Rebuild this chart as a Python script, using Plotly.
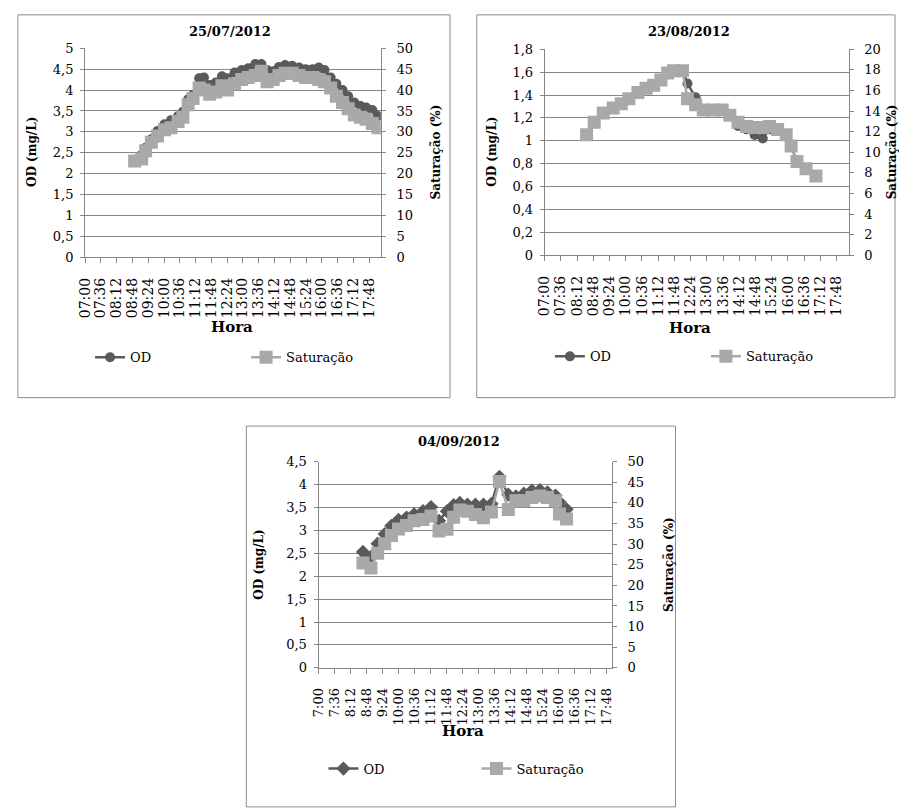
import plotly.graph_objects as go

W, H = 899, 809

# ---------------- data ----------------
tick_labels_a = ["07:00", "07:36", "08:12", "08:48", "09:24", "10:00", "10:36", "11:12", "11:48",
                 "12:24", "13:00", "13:36", "14:12", "14:48", "15:24", "16:00", "16:36", "17:12", "17:48"]
tick_labels_c = ["7:00", "7:36", "8:12", "8:48", "9:24", "10:00", "10:36", "11:12", "11:48",
                 "12:24", "13:00", "13:36", "14:12", "14:48", "15:24", "16:00", "16:36", "17:12", "17:48"]

# 25/07/2012
hora_1 = ["08:53", "09:09", "09:18", "09:31", "09:45", "10:01", "10:16", "10:32", "10:43", "10:55",
          "11:06", "11:20", "11:31", "11:44", "11:58", "12:12", "12:25", "12:41", "12:57", "13:12",
          "13:28", "13:42", "13:55", "14:09", "14:22", "14:36", "14:52", "15:08", "15:23", "15:39",
          "15:53", "16:06", "16:20", "16:33", "16:47", "17:00", "17:14", "17:28", "17:41", "17:55", "18:08"]
od_1 = [2.30, 2.45, 2.62, 2.82, 3.02, 3.18, 3.28, 3.38, 3.48, 3.78,
        3.88, 4.28, 4.30, 4.12, 4.18, 4.33, 4.28, 4.42, 4.48, 4.52,
        4.62, 4.62, 4.48, 4.45, 4.55, 4.60, 4.58, 4.54, 4.50, 4.50,
        4.54, 4.48, 4.30, 4.15, 4.00, 3.85, 3.70, 3.62, 3.58, 3.52, 3.38]
sat_1 = [23.0, 23.5, 25.5, 27.5, 29.0, 30.5, 31.0, 32.5, 33.5, 36.5,
         38.0, 40.5, 40.0, 39.0, 39.5, 41.0, 40.0, 41.5, 42.5, 43.0,
         43.5, 44.5, 42.0, 42.5, 43.5, 44.0, 44.0, 43.5, 43.0, 43.0,
         42.5, 42.0, 40.5, 38.5, 37.0, 35.5, 34.0, 33.5, 33.0, 32.0, 31.0]

# 23/08/2012
hora_2 = ["08:33", "08:50", "09:10", "09:32", "09:50", "10:07", "10:27", "10:45", "11:02", "11:18",
          "11:33", "11:46", "12:06", "12:17", "12:35", "12:52", "13:14", "13:34", "13:51", "14:09",
          "14:28", "14:46", "15:04", "15:19", "15:37", "15:56", "16:07", "16:20", "16:40", "17:02"]
od_2 = [1.05, 1.16, 1.24, 1.29, 1.32, 1.37, 1.42, 1.46, 1.49, 1.53,
        1.59, 1.61, 1.61, 1.50, 1.38, 1.28, 1.27, 1.27, 1.22, 1.13,
        1.10, 1.05, 1.02, 1.10, 1.09, 1.05, 0.95, 0.82, 0.75, 0.70]
sat_2 = [11.7, 12.9, 13.8, 14.3, 14.7, 15.2, 15.8, 16.2, 16.5, 17.0,
         17.7, 17.9, 17.9, 15.2, 14.6, 14.1, 14.1, 14.1, 13.6, 12.9,
         12.5, 12.4, 12.4, 12.5, 12.2, 11.7, 10.6, 9.1, 8.4, 7.7]

# 04/09/2012
hora_3 = ["08:40", "08:58", "09:13", "09:29", "09:44", "10:00", "10:18", "10:35", "10:55", "11:13",
          "11:31", "11:49", "12:04", "12:18", "12:35", "12:53", "13:11", "13:29", "13:47", "14:07",
          "14:24", "14:42", "15:00", "15:18", "15:35", "15:53", "16:02", "16:18"]
od_3 = [2.53, 2.42, 2.71, 2.92, 3.10, 3.23, 3.28, 3.35, 3.42, 3.51,
        3.21, 3.42, 3.55, 3.60, 3.56, 3.56, 3.56, 3.58, 4.17, 3.78,
        3.74, 3.80, 3.87, 3.88, 3.83, 3.76, 3.62, 3.46]
sat_3 = [25.4, 24.2, 27.8, 30.1, 32.1, 33.7, 34.5, 35.7, 36.0, 36.8,
         33.2, 33.6, 36.5, 38.3, 38.0, 37.2, 36.4, 37.8, 45.2, 38.4,
         40.5, 40.5, 41.3, 41.7, 41.3, 40.5, 37.3, 36.1]


def minutes(s):
    h, m = s.split(":")
    return int(h) * 60 + int(m)


FONT = "DejaVu Serif"
OD_COL = "#5a5a5a"
SAT_COL = "#a9a9a9"
AX_COL = "#868686"


def fx(px):
    return px / W


def fy(py):
    return 1 - py / H


fig = go.Figure()

charts = [
    dict(title="25/07/2012", hora=hora_1, od=od_1, sat=sat_1, sym="circle", odsize=10,
         ticks=tick_labels_a, xr=[420, 1094.4], yl=[0, 5], dl=0.5, yr=[0, 50], dr=5,
         box=(10, 8, 447, 398), plot=(78, 42, 377, 255), tfont=14,
         title_xy=(225, 25), hora_xy=(227, 326), odt_xy=(25, 148), satt_xy=(433, 148),
         leg_xy=(83, 357), legname="legend", ew=111),
    dict(title="23/08/2012", hora=hora_2, od=od_2, sat=sat_2, sym="circle", odsize=10,
         ticks=tick_labels_a, xr=[420, 1094.4], yl=[0, 1.8], dl=0.2, yr=[0, 20], dr=2,
         box=(474, 8, 897, 398), plot=(542.7, 43, 850, 253), tfont=14,
         title_xy=(689, 25), hora_xy=(690, 327), odt_xy=(490, 148), satt_xy=(894, 148),
         leg_xy=(548, 356), legname="legend2", ew=111),
    dict(title="04/09/2012", hora=hora_3, od=od_3, sat=sat_3, sym="diamond", odsize=11,
         ticks=tick_labels_c, xr=[420, 1080], yl=[0, 4.5], dl=0.5, yr=[0, 50], dr=5,
         box=(241, 427, 675, 815), plot=(314, 463.3, 610.7, 673.3), tfont=13,
         title_xy=(456, 443), hora_xy=(460, 738), odt_xy=(254, 568), satt_xy=(669, 568),
         leg_xy=(319, 776), legname="legend3", ew=108),
]

annotations = []
shapes = []
layout_axes = {}

for i, c in enumerate(charts):
    xn = "" if i == 0 else str(i + 1)
    yl_n = str(2 * i + 1) if i > 0 else ""
    yr_n = str(2 * i + 2)
    xref = "x" + xn
    ylref = "y" + yl_n
    yrref = "y" + yr_n
    x0, y0, x1, y1 = c["plot"]
    xs = [minutes(t) for t in c["hora"]]

    fig.add_trace(go.Scatter(
        x=xs, y=c["od"], xaxis=xref, yaxis=ylref, name="OD", legend=c["legname"],
        mode="lines+markers", line=dict(color=OD_COL, width=2.5),
        marker=dict(symbol=c["sym"], size=c["odsize"], color=OD_COL)))
    fig.add_trace(go.Scatter(
        x=xs, y=c["sat"], xaxis=xref, yaxis=yrref, name="Saturação", legend=c["legname"],
        mode="lines+markers", line=dict(color=SAT_COL, width=2.5),
        marker=dict(symbol="square", size=13, color=SAT_COL)))

    layout_axes["xaxis" + xn] = dict(
        domain=[fx(x0), fx(x1)], anchor=ylref, range=c["xr"],
        tickmode="array", tickvals=[minutes(t) for t in c["ticks"]], ticktext=c["ticks"],
        tickangle=-90, ticks="outside", ticklen=5, tickcolor=AX_COL,
        showline=True, linecolor=AX_COL, linewidth=1, showgrid=False, zeroline=False,
        tickfont=dict(family=FONT, size=c["tfont"], color="#000"), ticklabelstandoff=9)
    layout_axes["yaxis" + yl_n] = dict(
        domain=[fy(y1), fy(y0)], anchor=xref, range=c["yl"], dtick=c["dl"], tick0=0,
        ticks="outside", ticklen=4, tickcolor=AX_COL,
        showline=True, linecolor=AX_COL, linewidth=1, showgrid=True, gridcolor=AX_COL,
        gridwidth=1, zeroline=False, tickfont=dict(family=FONT, size=13, color="#000"),
        ticklabelstandoff=4)
    layout_axes["yaxis" + yr_n] = dict(
        overlaying=ylref, side="right", anchor=xref, range=c["yr"], dtick=c["dr"], tick0=0,
        ticks="outside", ticklen=4, tickcolor=AX_COL,
        showline=True, linecolor=AX_COL, linewidth=1, showgrid=False, zeroline=False,
        tickfont=dict(family=FONT, size=13, color="#000"), ticklabelstandoff=8)

    bx0, by0, bx1, by1 = c["box"]
    shapes.append(dict(type="rect", xref="paper", yref="paper", x0=fx(bx0), x1=fx(bx1),
                       y0=fy(by1), y1=fy(by0), line=dict(color="#8c8c8c", width=1),
                       fillcolor="rgba(0,0,0,0)", layer="below"))

    tx, ty = c["title_xy"]
    annotations.append(dict(text="<b>" + c["title"] + "</b>", x=fx(tx), y=fy(ty), xref="paper",
                            yref="paper", showarrow=False, xanchor="center", yanchor="middle",
                            font=dict(family=FONT, size=13, color="#000")))
    hx, hy = c["hora_xy"]
    annotations.append(dict(text="<b>Hora</b>", x=fx(hx), y=fy(hy), xref="paper", yref="paper",
                            showarrow=False, xanchor="center", yanchor="middle",
                            font=dict(family=FONT, size=15, color="#000")))
    ox, oy = c["odt_xy"]
    annotations.append(dict(text="<b>OD (mg/L)</b>", x=fx(ox), y=fy(oy), xref="paper",
                            yref="paper", showarrow=False, textangle=-90, xanchor="center",
                            yanchor="middle", font=dict(family=FONT, size=12, color="#000")))
    sx, sy = c["satt_xy"]
    annotations.append(dict(text="<b>Saturação (%)</b>", x=fx(sx), y=fy(sy), xref="paper",
                            yref="paper", showarrow=False, textangle=-90, xanchor="center",
                            yanchor="middle", font=dict(family=FONT, size=12, color="#000")))

    lx, ly = c["leg_xy"]
    layout_axes[c["legname"]] = dict(
        orientation="h", x=fx(lx), y=fy(ly), xanchor="left", yanchor="middle",
        font=dict(family=FONT, size=13, color="#000"), bgcolor="rgba(0,0,0,0)",
        entrywidth=c["ew"], entrywidthmode="pixels", itemwidth=30)

fig.update_layout(
    width=W, height=H, autosize=False,
    margin=dict(l=0, r=0, t=0, b=0, pad=0),
    paper_bgcolor="white", plot_bgcolor="white",
    separators=",.",
    showlegend=True,
    annotations=annotations, shapes=shapes,
    **layout_axes,
)

fig.write_html("out.html", config={"displayModeBar": False},
               post_script="document.body.style.margin='0';document.body.style.overflow='hidden';")
